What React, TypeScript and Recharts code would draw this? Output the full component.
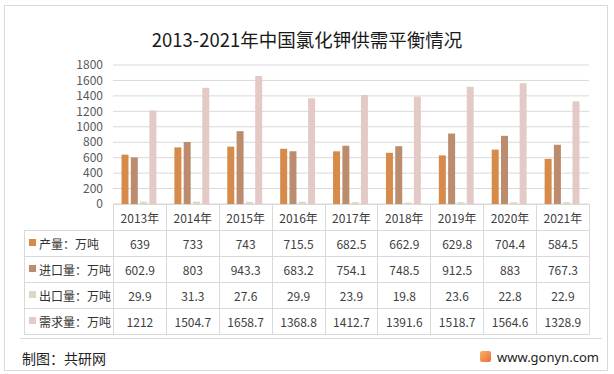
import { BarChart, Bar, XAxis, YAxis, CartesianGrid } from "recharts";

const years = ["2013年", "2014年", "2015年", "2016年", "2017年", "2018年", "2019年", "2020年", "2021年"];
const output = [639, 733, 743, 715.5, 682.5, 662.9, 629.8, 704.4, 584.5];
const imports = [602.9, 803, 943.3, 683.2, 754.1, 748.5, 912.5, 883, 767.3];
const exportsQty = [29.9, 31.3, 27.6, 29.9, 23.9, 19.8, 23.6, 22.8, 22.9];
const demand = [1212, 1504.7, 1658.7, 1368.8, 1412.7, 1391.6, 1518.7, 1564.6, 1328.9];
const yTicks = [0, 200, 400, 600, 800, 1000, 1200, 1400, 1600, 1800];

const series = [
  { key: "output", name: "产量：万吨", color: "#D68B4B", values: output },
  { key: "imports", name: "进口量：万吨", color: "#BB8C6D", values: imports },
  { key: "exports", name: "出口量：万吨", color: "#DDD7C6", values: exportsQty },
  { key: "demand", name: "需求量：万吨", color: "#E3CAC7", values: demand },
];

const data = years.map((year, i) => ({
  year,
  output: output[i],
  imports: imports[i],
  exports: exportsQty[i],
  demand: demand[i],
}));

const FONT = '"Noto Sans CJK SC", "Noto Sans", sans-serif';
const LINE = "#D9D9D9";
const PLOT_LEFT = 113;
const PLOT_RIGHT = 589;
const PLOT_TOP = 65;
const PLOT_BOTTOM = 204;
const TABLE_LEFT = 24;
const ROW_H = 25;
const colW = (PLOT_RIGHT - PLOT_LEFT) / years.length;

function DataTable() {
  const cell = {
    border: `1px solid ${LINE}`,
    padding: 0,
    height: ROW_H,
    textAlign: "center" as const,
    fontSize: 12,
    color: "#404040",
    lineHeight: "14px",
  };
  return (
    <table
      style={{
        position: "absolute",
        left: TABLE_LEFT,
        top: PLOT_BOTTOM,
        borderCollapse: "collapse",
        tableLayout: "fixed",
        width: PLOT_RIGHT - TABLE_LEFT,
        fontFamily: FONT,
      }}
    >
      <colgroup>
        <col style={{ width: PLOT_LEFT - TABLE_LEFT }} />
        {years.map((y) => (
          <col key={y} style={{ width: colW }} />
        ))}
      </colgroup>
      <tbody>
        <tr>
          <td style={{ padding: 0, border: "none" }} />
          {years.map((y) => (
            <td key={y} style={cell}>
              {y}
            </td>
          ))}
        </tr>
        {series.map((s) => (
          <tr key={s.key}>
            <td style={{ ...cell, textAlign: "left", color: "#333" }}>
              <span
                style={{
                  display: "inline-block",
                  width: 7,
                  height: 7,
                  background: s.color,
                  marginLeft: 4,
                  marginRight: 3,
                  verticalAlign: 3,
                }}
              />
              {s.name}
            </td>
            {s.values.map((v, i) => (
              <td key={i} style={cell}>
                {v}
              </td>
            ))}
          </tr>
        ))}
      </tbody>
    </table>
  );
}

export default function App() {
  return (
    <div
      style={{
        position: "absolute",
        left: 0,
        top: 0,
        width: 614,
        height: 374,
        background: "#fff",
        fontFamily: FONT,
      }}
    >
      <div
        style={{
          position: "absolute",
          left: 4,
          top: 5,
          width: 602,
          height: 364,
          border: `1.5px solid ${LINE}`,
        }}
      />
      <div
        style={{
          position: "absolute",
          left: 0,
          width: 614,
          top: 26,
          textAlign: "center",
          fontSize: 18.5,
          lineHeight: "26px",
          color: "#1a1a1a",
        }}
      >
        2013-2021年中国氯化钾供需平衡情况
      </div>
      <div style={{ position: "absolute", left: 0, top: 0 }}>
        <BarChart
          width={614}
          height={374}
          data={data}
          margin={{ top: PLOT_TOP, right: 614 - PLOT_RIGHT, left: 0, bottom: 374 - PLOT_BOTTOM }}
          barCategoryGap={8.5}
          barGap={2.3}
        >
          <CartesianGrid vertical={false} stroke={LINE} />
          <XAxis dataKey="year" hide />
          <YAxis
            width={PLOT_LEFT}
            domain={[0, 1800]}
            ticks={yTicks}
            interval={0}
            axisLine={false}
            tickLine={false}
            tickMargin={4}
            tick={{ fill: "#595959", fontSize: 12, fontFamily: FONT }}
          />
          {series.map((s) => (
            <Bar key={s.key} dataKey={s.key} name={s.name} fill={s.color} isAnimationActive={false} />
          ))}
        </BarChart>
      </div>
      <DataTable />
      <div
        style={{
          position: "absolute",
          left: 20,
          top: 338,
          width: 582,
          height: 1,
          background: LINE,
        }}
      />
      <div
        style={{
          position: "absolute",
          left: 22,
          top: 348,
          fontSize: 14,
          lineHeight: "20px",
          color: "#222",
        }}
      >
        制图：共研网
      </div>
      <div
        style={{
          position: "absolute",
          left: 480,
          top: 351,
          width: 11,
          height: 11,
          borderRadius: 2,
          background: "linear-gradient(135deg, #F7B267, #EE6C3A)",
        }}
      />
      <div
        style={{
          position: "absolute",
          left: 497,
          top: 347,
          fontSize: 13,
          lineHeight: "20px",
          color: "#222",
          fontFamily: '"Noto Sans", sans-serif',
        }}
      >
        www.gonyn.com
      </div>
    </div>
  );
}
